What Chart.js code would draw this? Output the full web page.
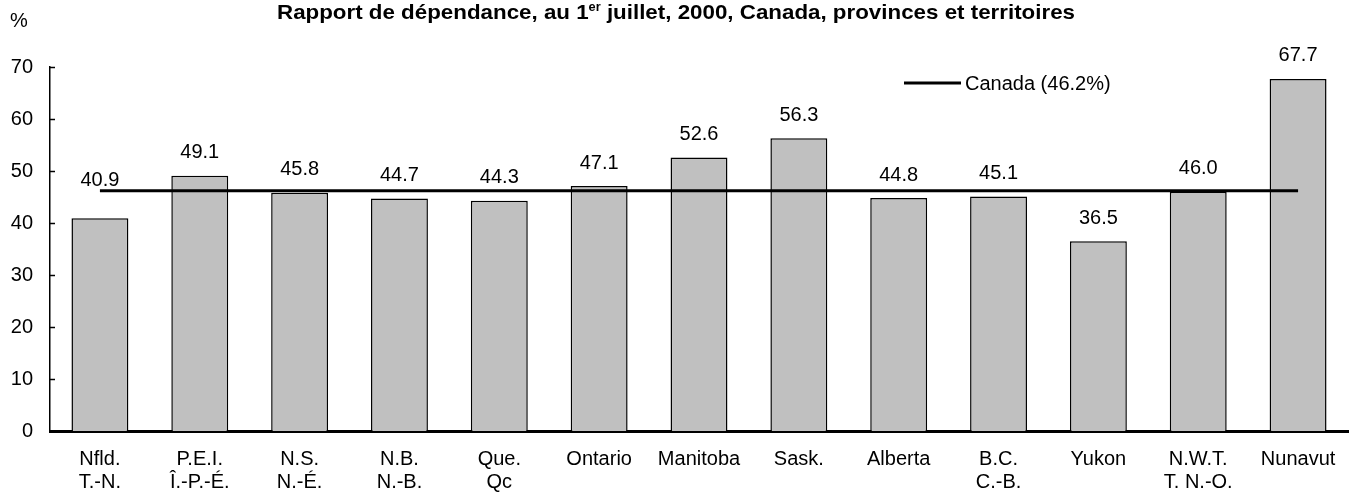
<!DOCTYPE html>
<html>
<head>
<meta charset="utf-8">
<script src="https://cdn.jsdelivr.net/npm/chart.js@4"></script>
<style>
html,body{margin:0;padding:0;background:#fff;}
#wrap{width:1353px;height:495px;position:relative;}
</style>
</head>
<body>
<div id="wrap"><canvas id="c"></canvas></div>
<script>
const categories = [["Nfld.","T.-N."],["P.E.I.","Î.-P.-É."],["N.S.","N.-É."],["N.B.","N.-B."],["Que.","Qc"],["Ontario"],["Manitoba"],["Sask."],["Alberta"],["B.C.","C.-B."],["Yukon"],["N.W.T.","T. N.-O."],["Nunavut"]];
const values = [40.9, 49.1, 45.8, 44.7, 44.3, 47.1, 52.6, 56.3, 44.8, 45.1, 36.5, 46.0, 67.7];
const canadaValue = 46.2;
const canadaLabel = "Canada (46.2%)";
const yTicks = [0, 10, 20, 30, 40, 50, 60, 70];
const titleMain = "Rapport de dépendance, au 1";
const titleSup = "er";
const titleRest = " juillet, 2000, Canada, provinces et territoires";
const unitLabel = "%";

const FONT = '"Liberation Sans", Arial, Helvetica, sans-serif';

const decor = {
  id: 'decor',
  afterDraw(chart) {
    const ctx = chart.ctx;
    const x = chart.scales.x, y = chart.scales.y;
    ctx.save();
    // inner tick marks on y axis
    ctx.strokeStyle = '#000';
    ctx.lineWidth = 1.5;
    yTicks.forEach(t => {
      const py = Math.round(y.getPixelForValue(t)) + 0.5;
      ctx.beginPath();
      ctx.moveTo(chart.chartArea.left, py);
      ctx.lineTo(chart.chartArea.left + 5, py);
      ctx.stroke();
    });
    // data labels (labels of bars just under the Canada line sit above the line)
    ctx.fillStyle = '#000';
    ctx.font = '20px ' + FONT;
    ctx.textAlign = 'center';
    ctx.textBaseline = 'middle';
    const meta = chart.getDatasetMeta(0);
    meta.data.forEach((bar, i) => {
      const v = values[i];
      const nearLine = v < canadaValue && v > canadaValue - 8;
      const anchor = nearLine ? Math.max(v, canadaValue - 2.4) : v;
      ctx.fillText(v.toFixed(1), bar.x, y.getPixelForValue(anchor) - 23);
    });
    // unit label
    ctx.textAlign = 'left';
    ctx.fillText(unitLabel, 10, 21);
    // legend
    ctx.lineWidth = 3;
    ctx.beginPath();
    ctx.moveTo(904, 83);
    ctx.lineTo(961, 83);
    ctx.stroke();
    ctx.fillText(canadaLabel, 965, 84);
    // title
    const targetW = 798, cx = 676, ty = 12;
    const fMain = 'bold 21px ' + FONT, fSup = 'bold 12px ' + FONT;
    ctx.font = fMain;
    const w1 = ctx.measureText(titleMain).width;
    const w3 = ctx.measureText(titleRest).width;
    ctx.font = fSup;
    const w2 = ctx.measureText(titleSup).width;
    const total = w1 + w2 + w3;
    const sx = targetW / total;
    ctx.translate(cx - targetW / 2, 0);
    ctx.scale(sx, 1);
    ctx.textBaseline = 'alphabetic';
    ctx.font = fMain;
    ctx.fillText(titleMain, 0, ty + 7);
    ctx.font = fSup;
    ctx.fillText(titleSup, w1, ty - 1);
    ctx.font = fMain;
    ctx.fillText(titleRest, w1 + w2, ty + 7);
    ctx.restore();
  }
};

new Chart(document.getElementById('c'), {
  data: {
    labels: categories,
    datasets: [
      {
        type: 'bar',
        data: values,
        backgroundColor: '#c0c0c0',
        borderColor: '#000',
        borderWidth: 1.5,
        borderSkipped: 'start',
        categoryPercentage: 1.0,
        barPercentage: 0.57,
        order: 2
      },
      {
        type: 'line',
        data: values.map(() => canadaValue),
        borderColor: '#000',
        borderWidth: 3,
        pointRadius: 0,
        fill: false,
        order: 1
      }
    ]
  },
  options: {
    responsive: true,
    maintainAspectRatio: false,
    animation: false,
    events: [],
    layout: { padding: { left: 0, right: 5, top: 67, bottom: 0 } },
    plugins: { legend: { display: false }, title: { display: false }, tooltip: { enabled: false } },
    scales: {
      x: {
        type: 'category',
        grid: { display: false, drawTicks: false },
        border: { display: true, color: '#000', width: 3 },
        ticks: { color: '#000', font: { family: FONT, size: 20, lineHeight: 1.15 }, padding: 17, maxRotation: 0, autoSkip: false },
        afterFit(s) { s.height = 64; }
      },
      y: {
        min: 0, max: 70,
        afterBuildTicks(s) { s.ticks = yTicks.map(v => ({ value: v })); },
        grid: { display: false, drawTicks: false },
        border: { display: true, color: '#000', width: 1.5 },
        ticks: { color: '#000', font: { family: FONT, size: 20 }, padding: 17 },
        afterFit(s) { s.width = 50; }
      }
    }
  },
  plugins: [decor]
});
</script>
</body>
</html>
